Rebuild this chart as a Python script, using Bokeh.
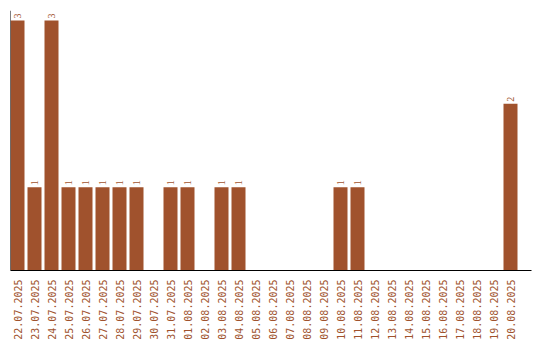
from math import pi

from bokeh.embed import file_html
from bokeh.models import ColumnDataSource, LabelSet, Span, FixedTicker
from bokeh.plotting import figure
from bokeh.resources import INLINE

# Daily counts
dates = [
    "22.07.2025", "23.07.2025", "24.07.2025", "25.07.2025", "26.07.2025",
    "27.07.2025", "28.07.2025", "29.07.2025", "30.07.2025", "31.07.2025",
    "01.08.2025", "02.08.2025", "03.08.2025", "04.08.2025", "05.08.2025",
    "06.08.2025", "07.08.2025", "08.08.2025", "09.08.2025", "10.08.2025",
    "11.08.2025", "12.08.2025", "13.08.2025", "14.08.2025", "15.08.2025",
    "16.08.2025", "17.08.2025", "18.08.2025", "19.08.2025", "20.08.2025",
]
counts = [3, 1, 3, 1, 1, 1, 1, 1, 0, 1,
          1, 0, 1, 1, 0, 0, 0, 0, 0, 1,
          1, 0, 0, 0, 0, 0, 0, 0, 0, 2]

BAR = "#a0522d"
BAR_W = 14 / 17

xs = list(range(len(dates)))
src = ColumnDataSource(dict(x=xs, top=counts))
lab = ColumnDataSource(dict(
    x=[x for x, c in zip(xs, counts) if c > 0],
    y=[c for c in counts if c > 0],
    t=[str(c) for c in counts if c > 0],
))

x0 = -BAR_W / 2
x1 = x0 + 521 / 17

p = figure(
    frame_width=521, frame_height=260,
    x_range=(x0, x1), y_range=(0, 3 * 260 / 250),
    output_backend="svg", toolbar_location=None,
    y_axis_location=None,
    min_border_left=10, min_border_top=10, min_border_right=9, min_border_bottom=0,
    background_fill_color="white", border_fill_color="white",
)
p.outline_line_color = None
p.grid.visible = False

p.vbar(x="x", top="top", width=BAR_W, bottom=0, source=src,
       fill_color=BAR, line_color=None)

# vertical value labels above the bars
p.add_layout(LabelSet(
    x="x", y="y", text="t", source=lab,
    angle=pi / 2, text_align="left", text_baseline="middle",
    y_offset=2, text_font="DejaVu Sans Mono", text_font_size="10px",
    text_color=BAR,
))

# left axis line
p.add_layout(Span(location=x0, dimension="height", line_color="black", line_width=1))

ax = p.xaxis[0]
ax.ticker = FixedTicker(ticks=xs)
ax.major_label_overrides = {i: d for i, d in enumerate(dates)}
ax.major_label_orientation = pi / 2
ax.major_tick_line_color = None
ax.minor_tick_line_color = None
ax.major_label_standoff = 3
ax.axis_line_color = "black"
ax.major_label_text_font = "DejaVu Sans Mono"
ax.major_label_text_font_size = "10px"
ax.major_label_text_color = BAR

open("out.html", "w").write(file_html(p, INLINE))
